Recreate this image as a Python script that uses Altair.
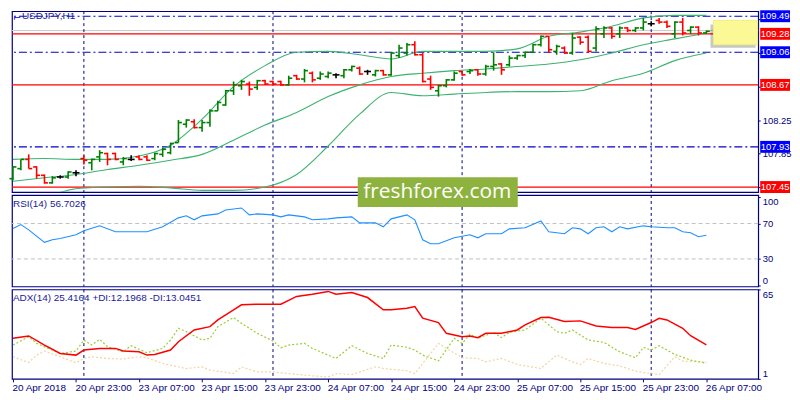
import altair as alt
import pandas as pd

# ---------------- data ----------------
OPEN = [107.55, 107.67, 107.78, 107.69, 107.59, 107.50, 107.57, 107.57, 107.62, 107.79,
        107.74, 107.81, 107.85, 107.85, 107.75, 107.78, 107.81, 107.81, 107.79, 107.84,
        107.86, 107.98, 108.20, 108.23, 108.16, 108.22, 108.36, 108.43, 108.60, 108.66,
        108.68, 108.64, 108.72, 108.71, 108.71, 108.67, 108.78, 108.74, 108.81, 108.75,
        108.77, 108.79, 108.78, 108.85, 108.87, 108.83, 108.79, 108.84, 108.79, 109.02,
        109.05, 109.15, 109.03, 108.74, 108.60, 108.66, 108.73, 108.83, 108.83, 108.85,
        108.80, 108.89, 108.92, 108.91, 108.99, 109.02, 109.06, 109.15, 109.25, 109.07,
        109.11, 109.05, 109.24, 109.24, 109.11, 109.28, 109.35, 109.28, 109.35, 109.32,
        109.35, 109.40, 109.44, 109.42, 109.28, 109.42, 109.32, 109.36, 109.29]
HIGH = [107.70, 107.78, 107.84, 107.70, 107.60, 107.58, 107.59, 107.64, 107.65, 107.83,
        107.79, 107.89, 107.86, 107.86, 107.81, 107.83, 107.83, 107.83, 107.86, 107.92,
        107.98, 108.25, 108.26, 108.26, 108.25, 108.38, 108.48, 108.61, 108.71, 108.73,
        108.71, 108.73, 108.73, 108.72, 108.72, 108.78, 108.79, 108.86, 108.83, 108.83,
        108.83, 108.81, 108.86, 108.90, 108.89, 108.85, 108.85, 108.85, 109.06, 109.15,
        109.17, 109.19, 109.05, 108.78, 108.67, 108.74, 108.83, 108.84, 108.86, 108.86,
        108.91, 109.06, 108.93, 109.02, 109.03, 109.07, 109.16, 109.26, 109.25, 109.15,
        109.13, 109.29, 109.25, 109.26, 109.37, 109.37, 109.36, 109.37, 109.36, 109.36,
        109.47, 109.43, 109.47, 109.44, 109.43, 109.47, 109.37, 109.37, 109.32]
LOW = [107.53, 107.65, 107.67, 107.55, 107.49, 107.49, 107.55, 107.55, 107.58, 107.72,
       107.65, 107.75, 107.71, 107.77, 107.71, 107.76, 107.77, 107.76, 107.77, 107.81,
       107.84, 107.98, 108.16, 108.15, 108.11, 108.17, 108.36, 108.42, 108.55, 108.61,
       108.54, 108.61, 108.67, 108.67, 108.66, 108.66, 108.73, 108.70, 108.70, 108.73,
       108.75, 108.75, 108.75, 108.83, 108.79, 108.79, 108.77, 108.78, 108.78, 108.99,
       109.02, 109.02, 108.70, 108.61, 108.53, 108.64, 108.72, 108.78, 108.80, 108.78,
       108.78, 108.84, 108.79, 108.89, 108.97, 108.99, 109.05, 109.13, 109.05, 109.03,
       109.04, 109.03, 109.15, 109.05, 109.07, 109.23, 109.22, 109.23, 109.30, 109.30,
       109.32, 109.37, 109.40, 109.35, 109.23, 109.26, 109.28, 109.26, 109.28]
CLOSE = [107.69, 107.78, 107.67, 107.59, 107.50, 107.56, 107.57, 107.63, 107.62, 107.77,
         107.78, 107.86, 107.78, 107.78, 107.79, 107.78, 107.78, 107.77, 107.85, 107.90,
         107.97, 108.22, 108.25, 108.16, 108.22, 108.36, 108.46, 108.60, 108.67, 108.71,
         108.62, 108.72, 108.68, 108.68, 108.67, 108.75, 108.74, 108.84, 108.73, 108.80,
         108.81, 108.79, 108.85, 108.89, 108.80, 108.83, 108.84, 108.79, 109.05, 109.11,
         109.15, 109.03, 108.71, 108.64, 108.66, 108.73, 108.81, 108.79, 108.84, 108.80,
         108.89, 108.91, 108.85, 108.99, 109.02, 109.06, 109.15, 109.25, 109.09, 109.13,
         109.05, 109.23, 109.18, 109.07, 109.34, 109.35, 109.25, 109.35, 109.32, 109.35,
         109.42, 109.40, 109.42, 109.37, 109.42, 109.29, 109.36, 109.29, 109.31]

BB_IDX = list(range(0, 89, 4))
BB_UPPER = [107.78, 107.79, 107.78, 107.78, 107.82, 107.95, 108.26, 108.65, 108.90, 109.06,
            109.07, 109.03, 108.98, 109.07, 109.07, 109.07, 109.10, 109.25, 109.30, 109.37,
            109.47, 109.50, 109.50]
BB_MID = [107.52, 107.56, 107.60, 107.66, 107.71, 107.77, 107.84, 108.01, 108.19, 108.34,
          108.53, 108.67, 108.77, 108.81, 108.84, 108.86, 108.89, 108.92, 108.97, 109.05,
          109.15, 109.22, 109.29]
BB_LOWER_IDX = list(range(4, 89, 4))
BB_LOWER = [107.32, 107.43, 107.45, 107.46, 107.44, 107.41, 107.41, 107.45, 107.60, 107.94,
            108.32, 108.58, 108.54, 108.56, 108.58, 108.59, 108.59, 108.60, 108.72, 108.81,
            108.96, 109.05]

RSI_IDX = [0, 1, 2, 4, 5, 6, 8, 9, 11, 13, 15, 17, 19, 21, 22, 23, 24, 26, 27, 29,
           30, 31, 33, 34, 35, 37, 38, 40, 41, 43, 44, 46, 47, 48, 50, 51, 52, 53, 54, 56,
           58, 59, 60, 62, 63, 65, 67, 68, 70, 71, 72, 73, 74, 75, 76, 77, 78, 80, 81, 83,
           84, 85, 86, 87, 88]
RSI_VAL = [64.4, 68.9, 62.9, 48.7, 51.7, 53.1, 57.3, 61.8, 67.4, 60.7, 60.7, 60.7, 66.3, 76.4,
           78.7, 74.2, 78.7, 80.9, 85.4, 87.6, 79.8, 80.9, 79.8, 77.5, 79.8, 77.5, 74.2, 75.3,
           76.4, 77.5, 70.8, 70.8, 66.3, 75.3, 79.8, 74.2, 51.7, 47.2, 47.2, 53.9, 57.3, 53.9,
           58.4, 58.4, 64.0, 65.2, 73.0, 60.7, 58.4, 65.2, 64.0, 58.4, 65.2, 66.3, 60.7, 66.3,
           64.0, 67.4, 66.3, 65.2, 65.2, 60.7, 59.6, 55.1, 56.7]

ADX_IDX = [0, 2, 4, 6, 8, 9, 11, 13, 14, 16, 17, 18, 20, 21, 23, 25, 26, 28, 29, 31,
           34, 36, 38, 40, 41, 43, 45, 47, 48, 50, 51, 52, 54, 55, 57, 58, 59, 60, 62, 64,
           65, 67, 68, 70, 72, 74, 76, 78, 79, 81, 82, 83, 85, 86, 88]
ADX_VAL = [30.0, 31.7, 25.2, 19.2, 18.0, 21.6, 22.8, 22.8, 20.9, 20.4, 18.0, 18.5, 21.6, 27.6,
           36.0, 38.4, 43.2, 50.4, 54.0, 54.4, 54.4, 60.0, 61.6, 63.6, 61.6, 62.8, 59.2, 50.4,
           50.4, 51.5, 52.8, 44.4, 41.3, 33.6, 31.2, 31.7, 30.5, 33.6, 33.6, 36.0, 39.6, 44.9,
           45.1, 42.0, 42.5, 38.9, 37.7, 37.7, 36.4, 41.3, 44.4, 43.2, 37.2, 31.9, 25.4]
PDI_IDX = [0, 2, 3, 5, 6, 8, 9, 10, 11, 12, 14, 15, 17, 19, 20, 21, 22, 24, 25, 26,
           28, 29, 31, 33, 34, 35, 37, 38, 41, 43, 45, 47, 48, 50, 51, 52, 54, 56, 57, 58,
           59, 61, 62, 63, 65, 67, 69, 70, 71, 73, 75, 77, 79, 80, 81, 82, 84, 86, 88]
PDI_VAL = [25.2, 31.2, 26.4, 21.6, 19.2, 20.9, 28.8, 25.2, 29.3, 24.0, 20.4, 24.7, 19.7, 22.8,
           28.8, 37.2, 34.8, 28.8, 30.0, 38.4, 44.9, 40.8, 33.6, 28.1, 23.3, 25.2, 26.4, 22.8,
           15.6, 24.7, 19.2, 15.6, 25.2, 23.6, 21.6, 18.0, 13.9, 30.0, 26.4, 32.9, 30.0, 34.3,
           30.5, 34.3, 36.0, 44.4, 34.8, 33.6, 36.0, 28.8, 27.1, 20.4, 16.1, 23.5, 21.6, 24.7,
           18.5, 14.4, 12.2]
MDI_IDX = [0, 2, 3, 4, 6, 8, 9, 10, 12, 14, 16, 17, 19, 22, 24, 25, 28, 29, 31, 33,
           35, 38, 40, 41, 43, 46, 47, 50, 51, 52, 54, 55, 57, 59, 60, 62, 64, 67, 69, 71,
           72, 73, 75, 77, 79, 81, 82, 84, 85, 88]
MDI_VAL = [16.8, 12.7, 18.0, 20.9, 16.8, 12.5, 15.6, 16.8, 15.6, 15.2, 16.8, 16.1, 12.0, 8.4,
           9.6, 7.3, 4.8, 9.6, 6.0, 6.0, 4.8, 3.2, 2.4, 4.8, 4.1, 9.6, 8.4, 6.8, 4.8, 12.0,
           26.4, 22.8, 16.1, 15.6, 13.2, 15.6, 11.3, 8.4, 18.0, 13.2, 11.3, 15.6, 12.0, 10.3,
           6.5, 4.8, 4.1, 16.8, 13.7, 13.0]

DAY_SEPARATORS = [9, 33, 57, 81]
BLUE_LEVELS = [109.49, 109.06, 107.93]
RED_LEVELS = [109.28, 108.67, 107.45]
ASK_LEVEL = [109.32]
ZONE_X = [88.9, 94.5]
ZONE_Y = [109.15, 109.44]
PRICE_TICKS = [107.45, 107.85, 108.25, 108.65, 109.05, 109.45]
PRICE_SHOWN = ["107.85", "108.25"]   # the others sit under the coloured price tags
TIME_TICKS = list(range(0, 89, 8))
TIME_LABELS = ["20 Apr 2018", "20 Apr 23:00", "23 Apr 07:00", "23 Apr 15:00",
               "23 Apr 23:00", "24 Apr 07:00", "24 Apr 15:00", "24 Apr 23:00",
               "25 Apr 07:00", "25 Apr 15:00", "25 Apr 23:00", "26 Apr 07:00"]
PRICE_TITLE = "USDJPY,H1"
RSI_TITLE = "RSI(14) 56.7026"
ADX_TITLE = "ADX(14) 25.4164 +DI:12.1968 -DI:13.0451"
WATERMARK = "freshforex.com"

# ---------------- styling ----------------
W = 751
NAVY = "#000080"
FONT = "Liberation Sans"
XS = alt.Scale(domain=[-0.126, 94.58], nice=False, zero=False)
PS = alt.Scale(domain=[107.39, 109.55], nice=False, zero=False)
RS = alt.Scale(domain=[-1.1, 102.2], nice=False, zero=False)
AS = alt.Scale(domain=[1, 65], nice=False, zero=False)

def right_axis(values, fmt=None, flush=False, size=10, expr=None):
    kw = dict(orient="right", values=values, tickSize=2, tickColor=NAVY, labelColor=NAVY,
              labelPadding=2, domain=False, grid=False, title=None, labelFont=FONT,
              labelFontSize=size, labelFlush=flush, labelOverlap=False)
    if fmt:
        kw["format"] = fmt
    if expr:
        kw["labelExpr"] = expr
    return alt.Axis(**kw)

shown_expr = "indexof([" + ",".join(f"'{s}'" for s in PRICE_SHOWN) + "], datum.label) >= 0 ? datum.label : ''"
PRICE_AXIS = right_axis(PRICE_TICKS, ".2f", False, 9.5, shown_expr)
RSI_AXIS = right_axis([0, 30, 70, 100], None, 4, 9.5)
ADX_AXIS = right_axis([1, 65], None, 4, 9.5)

def px(field="i:Q"):
    return alt.X(field, scale=XS, axis=None)

def py(field):
    return alt.Y(field, scale=PS, axis=PRICE_AXIS)

# ---------------- price panel ----------------
bars = pd.DataFrame(dict(i=range(len(OPEN)), o=OPEN, h=HIGH, l=LOW, c=CLOSE))
bars["col"] = ["#008000" if c > o else ("#ff0000" if c < o else "#000000")
               for o, c in zip(OPEN, CLOSE)]
col = alt.Color("col:N", scale=None)

wick = alt.Chart(bars).mark_rule(strokeWidth=1.6).encode(
    x=px(), y=py("l:Q"), y2="h:Q", color=col)
open_tick = alt.Chart(bars).mark_rule(strokeWidth=1.6, xOffset=-3.5).encode(
    x=px(), x2="i:Q", y=py("o:Q"), color=col)
close_tick = alt.Chart(bars).mark_rule(strokeWidth=1.6, x2Offset=3.5).encode(
    x=px(), x2="i:Q", y=py("c:Q"), color=col)

bb = pd.DataFrame(dict(i=BB_IDX, upper=BB_UPPER, mid=BB_MID))
bbl = pd.DataFrame(dict(i=BB_LOWER_IDX, lower=BB_LOWER))
bb_style = dict(color="#3cb371", strokeWidth=1.1, clip=True, interpolate="monotone")
bb_up = alt.Chart(bb).mark_line(**bb_style).encode(x=px(), y=py("upper:Q"))
bb_mid = alt.Chart(bb).mark_line(**bb_style).encode(x=px(), y=py("mid:Q"))
bb_low = alt.Chart(bbl).mark_line(**bb_style).encode(x=px(), y=py("lower:Q"))

seps = pd.DataFrame(dict(i=DAY_SEPARATORS))
def sep_layer():
    return alt.Chart(seps).mark_rule(color=NAVY, strokeDash=[3, 3], strokeWidth=1).encode(x=px())

ask = alt.Chart(pd.DataFrame(dict(p=ASK_LEVEL))).mark_rule(
    color="#cccccc", strokeWidth=1).encode(y=py("p:Q"))
blue_lv = alt.Chart(pd.DataFrame(dict(p=BLUE_LEVELS))).mark_rule(
    color="#0000cd", strokeDash=[8, 3, 2, 3], strokeWidth=1.2).encode(y=py("p:Q"))
red_lv = alt.Chart(pd.DataFrame(dict(p=RED_LEVELS))).mark_rule(
    color="#ff0000", strokeWidth=1.2).encode(y=py("p:Q"))

zone = pd.DataFrame(dict(x0=[ZONE_X[0]], x1=[ZONE_X[1]], y0=[ZONE_Y[0]], y1=[ZONE_Y[1]]))
zone_shadow = alt.Chart(zone).mark_rect(color="#000000", opacity=0.22, xOffset=-3,
                                        x2Offset=-2, yOffset=3, y2Offset=4).encode(
    x=px("x0:Q"), x2="x1:Q", y=py("y0:Q"), y2="y1:Q")
zone_rect = alt.Chart(zone).mark_rect(color="#fbf995", stroke="#f3ef7c", strokeWidth=1).encode(
    x=px("x0:Q"), x2="x1:Q", y=py("y0:Q"), y2="y1:Q")

tags = pd.DataFrame(dict(p=BLUE_LEVELS + RED_LEVELS,
                         fill=["#0000ff"] * len(BLUE_LEVELS) + ["#ff0000"] * len(RED_LEVELS)))
tags["label"] = [f"{v:.2f}" for v in tags["p"]]
tag_bg = alt.Chart(tags).mark_rect(yOffset=6, y2Offset=-6).encode(
    x=alt.value(W + 2), x2=alt.value(W + 32), y=py("p:Q"), y2="p:Q",
    color=alt.Color("fill:N", scale=None))
tag_txt = alt.Chart(tags).mark_text(color="white", font=FONT, fontSize=9.5,
                                    align="center", baseline="middle").encode(
    x=alt.value(W + 17), y=py("p:Q"), text="label:N")

ptitle = alt.Chart(pd.DataFrame(dict(t=[PRICE_TITLE]))).mark_text(
    color="#1a1a9a", font=FONT, fontSize=10, align="left", baseline="middle").encode(
    x=alt.value(10), y=alt.value(5), text="t:N")
picon = alt.Chart(pd.DataFrame(dict(t=["⌐"]))).mark_text(
    color="#0000cd", font="DejaVu Sans", fontSize=10, align="left", baseline="middle").encode(
    x=alt.value(1), y=alt.value(7), text="t:N")

price = alt.layer(
    ask, sep_layer(), blue_lv, red_lv, bb_up, bb_mid, bb_low,
    wick, open_tick, close_tick, zone_shadow, zone_rect, tag_bg, tag_txt, ptitle, picon
).properties(width=W, height=182)

# ---------------- RSI panel ----------------
rsi_df = pd.DataFrame(dict(i=RSI_IDX, v=RSI_VAL))
rsi_levels = alt.Chart(pd.DataFrame(dict(v=[30, 70]))).mark_rule(
    color="#c0c0c0", strokeDash=[4, 3], strokeWidth=1).encode(
    y=alt.Y("v:Q", scale=RS, axis=RSI_AXIS))
rsi_line = alt.Chart(rsi_df).mark_line(color="#1e90ff", strokeWidth=1.1).encode(
    x=px(), y=alt.Y("v:Q", scale=RS, axis=RSI_AXIS))
rsi_title = alt.Chart(pd.DataFrame(dict(t=[RSI_TITLE]))).mark_text(
    color="#1a1a9a", font=FONT, fontSize=10, align="left", baseline="middle").encode(
    x=alt.value(1), y=alt.value(9), text="t:N")
wm_box = alt.Chart(pd.DataFrame(dict(t=[WATERMARK]))).mark_rect(color="#8db33e").encode(
    x=alt.value(348), x2=alt.value(509), y=alt.value(-18), y2=alt.value(12))
wm_txt = alt.Chart(pd.DataFrame(dict(t=[WATERMARK]))).mark_text(
    color="white", font="Open Sans", fontSize=21, align="center", baseline="middle").encode(
    x=alt.value(428), y=alt.value(-3), text="t:N")
rsi = alt.layer(rsi_levels, sep_layer(), rsi_line, rsi_title, wm_box, wm_txt).properties(
    width=W, height=92)

# ---------------- ADX panel ----------------
label_expr = "[" + ",".join(f"'{t}'" for t in TIME_LABELS) + "][round(datum.value / 8)]"
X_AXIS = alt.Axis(values=TIME_TICKS, labelExpr=label_expr, labelAlign="left", labelFlush=False,
                  labelOverlap=False, tickSize=3, tickColor=NAVY, labelColor=NAVY,
                  labelFont=FONT, labelFontSize=10, labelPadding=1, labelOffset=-1,
                  domain=False, grid=False, title=None)

def ax():
    return alt.X("i:Q", scale=XS, axis=X_AXIS)

def ay(f):
    return alt.Y(f, scale=AS, axis=ADX_AXIS)

adx_df = pd.DataFrame(dict(i=ADX_IDX, v=ADX_VAL))
pdi_df = pd.DataFrame(dict(i=PDI_IDX, v=PDI_VAL))
mdi_df = pd.DataFrame(dict(i=MDI_IDX, v=MDI_VAL))
mdi_line = alt.Chart(mdi_df).mark_line(color="#f3d3a0", strokeDash=[2, 2], strokeWidth=1.2).encode(
    x=ax(), y=ay("v:Q"))
pdi_line = alt.Chart(pdi_df).mark_line(color="#9acd32", strokeDash=[2, 2], strokeWidth=1.2).encode(
    x=ax(), y=ay("v:Q"))
adx_line = alt.Chart(adx_df).mark_line(color="#ff0000", strokeWidth=1.5).encode(
    x=ax(), y=ay("v:Q"))
adx_sep = alt.Chart(seps).mark_rule(color=NAVY, strokeDash=[3, 3], strokeWidth=1).encode(x=ax())
adx_title = alt.Chart(pd.DataFrame(dict(t=[ADX_TITLE]))).mark_text(
    color="#1a1a9a", font=FONT, fontSize=10, align="left", baseline="middle").encode(
    x=alt.value(1), y=alt.value(9), text="t:N")
adx = alt.layer(adx_sep, mdi_line, pdi_line, adx_line, adx_title).properties(width=W, height=90)

chart = alt.vconcat(price, rsi, adx, spacing=3, bounds="flush").properties(
    padding=0, background="white"
).configure_view(stroke=NAVY, strokeWidth=1.2)

chart.save("out.html", embed_options={"renderer": "svg", "actions": False})
